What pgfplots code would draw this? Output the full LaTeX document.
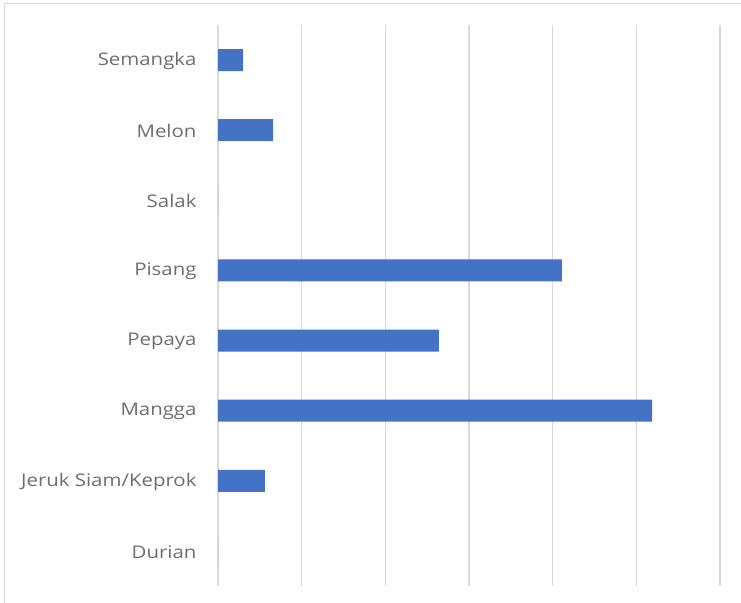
\documentclass[border=0pt]{standalone}
\usepackage{pgfplots}
\pgfplotsset{compat=1.18}
\usepackage{fontspec}
\setmainfont[FakeStretch=1.17]{Open Sans}
\definecolor{barblue}{HTML}{4472C4}
\definecolor{gridgray}{HTML}{D9D9D9}
\definecolor{labgray}{HTML}{6E6E6E}
\begin{document}
\begin{tikzpicture}[x=1bp,y=1bp]
\useasboundingbox (0,0) rectangle (741,603);
\draw[gridgray, line width=1bp] (4,0) -- (4,599) -- (741,599);
\begin{axis}[
  at={(218bp,17bp)}, anchor=south west,
  scale only axis, width=502bp, height=561bp,
  xbar, bar width=22bp,
  xmin=0, xmax=6, ymin=-0.5, ymax=7.5,
  xtick={0,1,2,3,4,5,6}, xticklabels={},
  xmajorgrids, major grid style={gridgray, line width=1.2bp},
  ytick={0,1,2,3,4,5,6,7},
  yticklabels={Durian,Jeruk Siam/Keprok,Mangga,Pepaya,Pisang,Salak,Melon,Semangka},
  yticklabel style={font=\fontsize{17.5}{19}\selectfont, text=labgray, xshift=-18bp, yshift=-1bp},
  major tick length=0pt,
  axis line style={draw=none},
]
\addplot[fill=barblue, draw=none] coordinates {
 (0,0) (0.56,1) (5.19,2) (2.64,3) (4.11,4) (0,5) (0.66,6) (0.30,7)
};
\end{axis}
\end{tikzpicture}
\end{document}
